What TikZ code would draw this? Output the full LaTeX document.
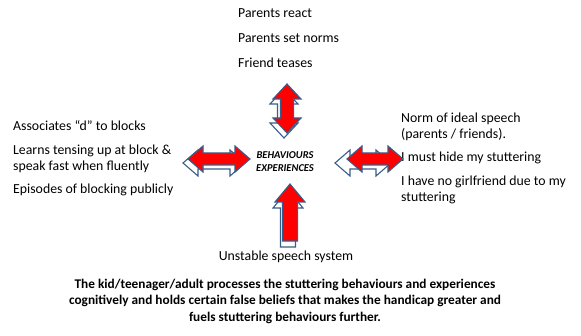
\documentclass[tikz,border=0pt]{standalone}
\usepackage{fontspec}
\setmainfont{Carlito}
\usetikzlibrary{arrows.meta}

\definecolor{arrowline}{RGB}{56,93,138}
\definecolor{arrowred}{RGB}{255,0,0}

\begin{document}
\begin{tikzpicture}[
    x=1pt, y=1pt,
    every node/.style={font=\fontsize{13.8}{16}\selectfont, inner sep=0pt},
    redarrow/.style={fill=arrowred, draw=arrowline, line width=1.1pt, line join=miter},
    backarrow/.style={fill=white, draw=arrowline, line width=1.1pt, line join=miter}
]
\useasboundingbox (0,0) rectangle (581,335);

% --- Top texts (influences) ---
\node[anchor=west] (react) at (238,322) {Parents react};
\node[anchor=west] (norms) at (238,297) {Parents set norms};
\node[anchor=west] (tease) at (238,272) {Friend teases};

% --- Centre ---
\node[align=center, font=\fontsize{10.5}{13}\selectfont\bfseries\itshape] (centre) at (285,173)
    {BEHAVIOURS\\EXPERIENCES};

% --- Left texts ---
\node[anchor=west] (assoc) at (13,209) {Associates “d” to blocks};
\node[anchor=west, align=left] (tense) at (13,176) {Learns tensing up at block \&\\speak fast when fluently};
\node[anchor=west] (episode) at (13,145) {Episodes of blocking publicly};

% --- Right texts ---
\node[anchor=west, align=left] (ideal) at (401,208) {Norm of ideal speech\\(parents / friends).};
\node[anchor=west] (hide) at (401,177) {I must hide my stuttering};
\node[anchor=west, align=left] (girl) at (401,145) {I have no girlfriend due to my\\stuttering};

% --- Bottom texts ---
\node (unstable) at (286,78) {Unstable speech system};
\node[align=center, font=\fontsize{13.3}{16.5}\selectfont\bfseries] (summary) at (285,34)
    {The kid/teenager/adult processes the stuttering behaviours and experiences\\
     cognitively and holds certain false beliefs that makes the handicap greater and\\
     fuels stuttering behaviours further.};

% --- Top arrow (double, vertical) ---
\draw[backarrow, shift={(-3,-5)}] (287,251) -- (301,236) -- (293.5,236) -- (293.5,217) -- (301,217)
    -- (287,202) -- (273,217) -- (280.5,217) -- (280.5,236) -- (273,236) -- cycle;
\draw[redarrow] (287,251) -- (301,236) -- (293.5,236) -- (293.5,217) -- (301,217)
    -- (287,202) -- (273,217) -- (280.5,217) -- (280.5,236) -- (273,236) -- cycle;

% --- Left arrow (double, horizontal) ---
\draw[backarrow, shift={(-5,-4)}] (188,176) -- (203,189) -- (203,182) -- (235,182) -- (235,189)
    -- (250,176) -- (235,163) -- (235,170) -- (203,170) -- (203,163) -- cycle;
\draw[redarrow] (188,176) -- (203,189) -- (203,182) -- (235,182) -- (235,189)
    -- (250,176) -- (235,163) -- (235,170) -- (203,170) -- (203,163) -- cycle;

% --- Right arrow (double, horizontal) ---
\draw[backarrow, shift={(-12,-4)}] (347,176) -- (362,189) -- (362,182) -- (388,182) -- (388,189)
    -- (403,176) -- (388,163) -- (388,170) -- (362,170) -- (362,163) -- cycle;
\draw[redarrow] (347,176) -- (362,189) -- (362,182) -- (388,182) -- (388,189)
    -- (403,176) -- (388,163) -- (388,170) -- (362,170) -- (362,163) -- cycle;

% --- Bottom arrow (single, pointing up) ---
\draw[backarrow, shift={(-2,-6)}] (290,151) -- (305,133) -- (297.5,133) -- (297.5,94)
    -- (282.5,94) -- (282.5,133) -- (275,133) -- cycle;
\draw[redarrow] (290,151) -- (305,133) -- (297.5,133) -- (297.5,94)
    -- (282.5,94) -- (282.5,133) -- (275,133) -- cycle;

\end{tikzpicture}
\end{document}
